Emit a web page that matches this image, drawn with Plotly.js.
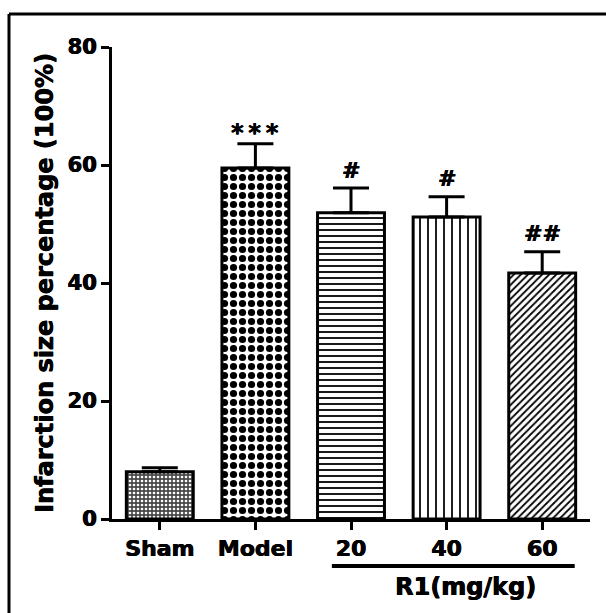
<!DOCTYPE html>
<html>
<head>
<meta charset="utf-8">
<script src="https://cdn.plot.ly/plotly-3.0.1.min.js"></script>
<style>
html,body{margin:0;padding:0;background:#fff;}
#chart{width:606px;height:613px;}
</style>
</head>
<body>
<div id="chart"></div>
<script>
const categories = ["Sham", "Model", "20", "40", "60"];
const values = [8.0, 59.5, 51.9, 51.2, 41.7];
const errors = [0.7, 4.1, 4.2, 3.4, 3.6];
const marks = ["", "*\u2009*\u2009*", "#", "#", "##"];
const groupLabel = "R1(mg/kg)";
const yTitle = "Infarction size percentage (100%)";
const yTicks = [0, 20, 40, 60, 80];

const FONT = "DejaVu Sans, sans-serif";
const HEAVY = "0.5px 0 0 #000, -0.3px 0 0 #000";

function f(size) {
  return {family: FONT, size: size, color: "#000", weight: "bold", shadow: HEAVY};
}

const trace = {
  type: "bar",
  x: categories,
  y: values,
  width: 0.7,
  marker: {
    color: "#ffffff",
    line: {color: "#000", width: 3},
    pattern: {
      shape: [".", ".", "-", "|", "/"],
      fgcolor: ["#ffffff", "#000000", "#000000", "#000000", "#000000"],
      bgcolor: ["#4a4a4a", "#ffffff", "#ffffff", "#ffffff", "#ffffff"],
      size: [4, 9, 6, 8, 5],
      solidity: [0.35, 0.5, 0.3, 0.22, 0.35],
      fillmode: "replace"
    }
  },
  error_y: {
    type: "data",
    symmetric: false,
    array: errors,
    arrayminus: errors.map(() => 0),
    color: "#000",
    thickness: 3,
    width: 18
  },
  hoverinfo: "none"
};

const annotations = [];
categories.forEach((c, i) => {
  if (!marks[i]) return;
  const star = marks[i].indexOf("*") >= 0;
  annotations.push({
    x: i, y: values[i] + errors[i], xref: "x", yref: "y",
    text: marks[i], showarrow: false,
    yanchor: "middle", yshift: star ? 11 : 18,
    font: f(star ? 24 : 22)
  });
});

annotations.push({
  x: 3.2, y: -0.145, xref: "x", yref: "paper",
  text: groupLabel, showarrow: false, yanchor: "middle",
  font: f(24)
});

const layout = {
  width: 606, height: 613,
  margin: {l: 112, r: 16, t: 47, b: 94},
  paper_bgcolor: "#fff", plot_bgcolor: "#fff",
  showlegend: false,
  font: {family: FONT, color: "#000", weight: "bold"},
  xaxis: {
    type: "category",
    range: [-0.5, 4.5],
    showline: true, linecolor: "#000", linewidth: 3,
    ticks: "outside", ticklen: 8, tickwidth: 3, tickcolor: "#000",
    tickfont: f(22),
    showgrid: false, zeroline: false, fixedrange: true
  },
  yaxis: {
    range: [0, 80],
    tickvals: yTicks,
    showline: true, linecolor: "#000", linewidth: 3,
    ticks: "outside", ticklen: 8, tickwidth: 3, tickcolor: "#000",
    tickfont: f(21),
    showgrid: false, zeroline: false, fixedrange: true,
    title: {text: yTitle, standoff: 8, font: f(24)}
  },
  shapes: [
    {type: "line", xref: "x", yref: "paper", x0: 1.8, x1: 4.34, y0: -0.0995, y1: -0.0995,
     line: {color: "#000", width: 4}},
    {type: "line", xref: "paper", yref: "paper", x0: -0.2155, x1: 1.2, y0: 1.07, y1: 1.07,
     line: {color: "#000", width: 3}},
    {type: "line", xref: "paper", yref: "paper", x0: -0.2155, x1: -0.2155, y0: 1.07, y1: -0.3,
     line: {color: "#000", width: 3}}
  ],
  annotations: annotations
};

Plotly.newPlot("chart", [trace], layout, {displayModeBar: false, staticPlot: true});
</script>
</body>
</html>
